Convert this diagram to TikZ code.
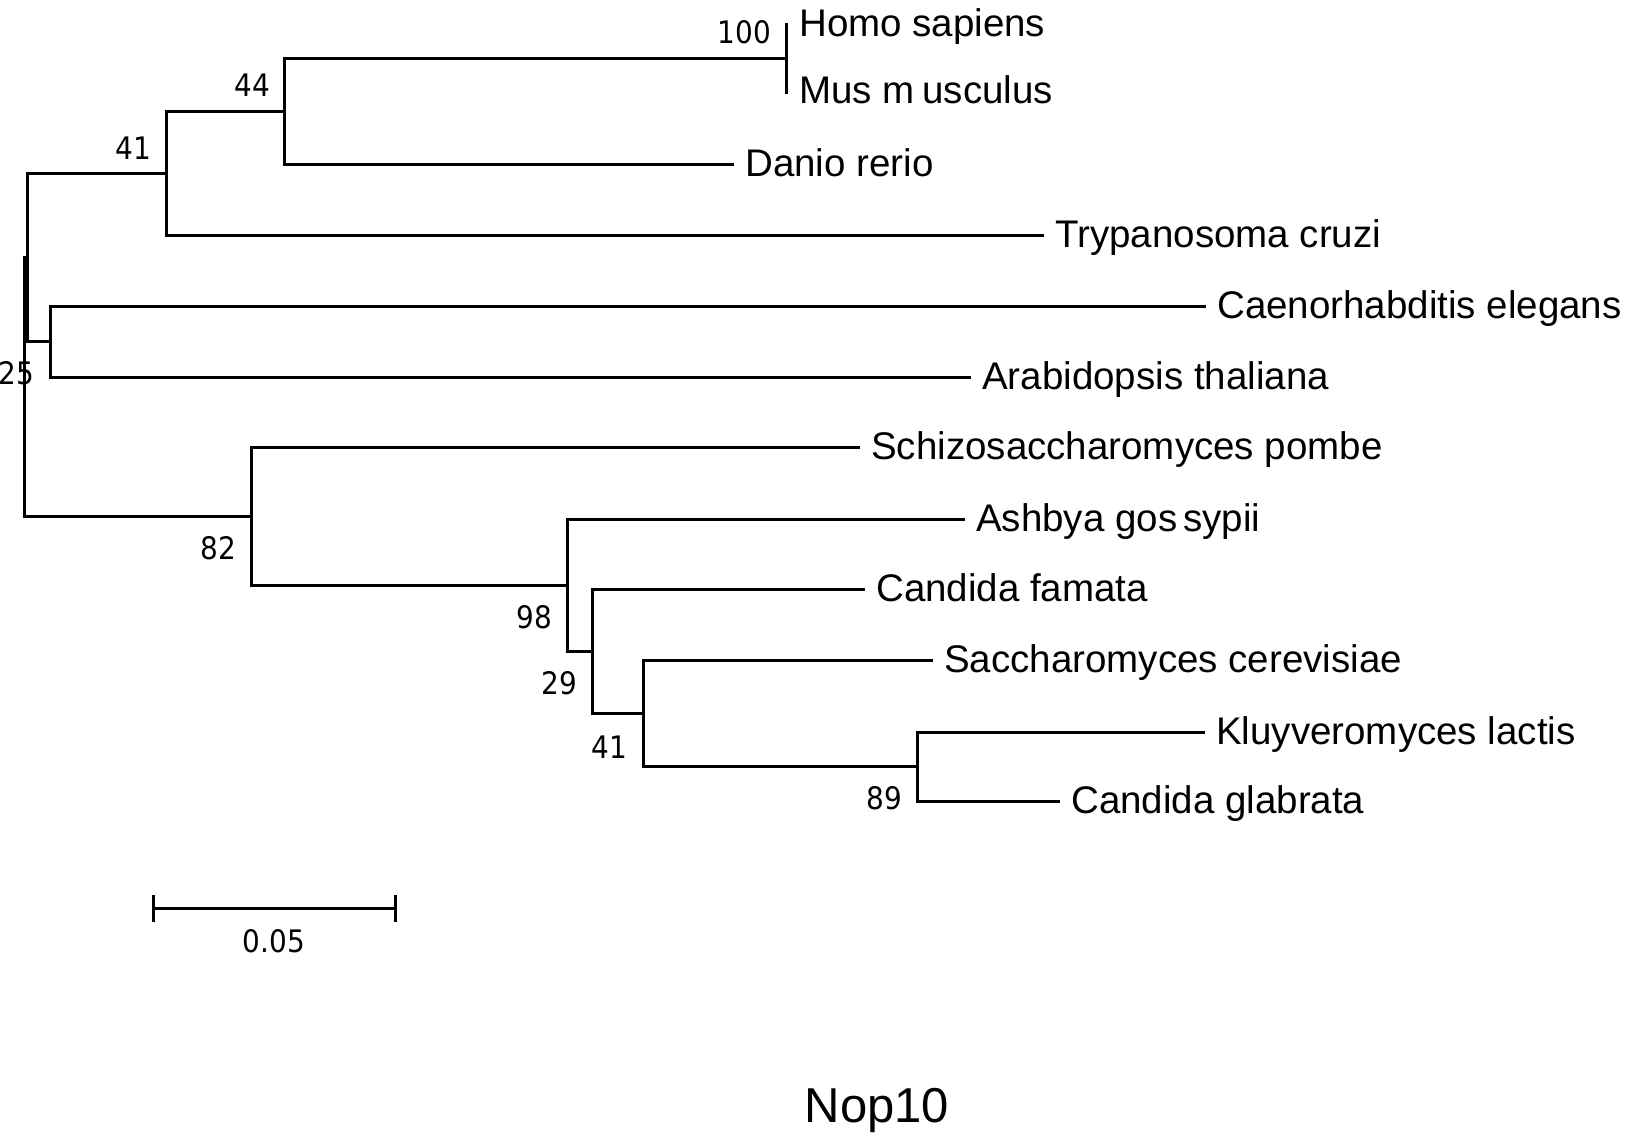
\documentclass[tikz,border=0pt]{standalone}
\usepackage{fontspec}
\setmainfont{Liberation Sans}
\newfontfamily\numfont{DejaVu Sans Condensed}
\begin{document}
\begin{tikzpicture}[x=1pt,y=-1pt,
  branch/.style={line width=3pt, line join=miter},
  leaf/.style={anchor=base west, inner sep=0pt, font=\fontsize{38.5}{44}\selectfont},
  boot/.style={anchor=base east, inner sep=0pt, font=\numfont\fontsize{31}{36}\selectfont},
  scalelbl/.style={anchor=base, inner sep=0pt, font=\numfont\fontsize{31}{36}\selectfont},
  title/.style={anchor=base, inner sep=0pt, font=\fontsize{49}{56}\selectfont}]
\useasboundingbox (0,0) rectangle (1627,1133);
% leaf tips
\coordinate (t-homo) at (786,23);
\coordinate (t-mus) at (786,94);
\coordinate (t-danio) at (734,164);
\coordinate (t-tryp) at (1044,235);
\coordinate (t-caeno) at (1206,306);
\coordinate (t-arab) at (971,377);
\coordinate (t-schizo) at (860,447);
\coordinate (t-ashbya) at (965,519);
\coordinate (t-cfam) at (865,589);
\coordinate (t-sacch) at (933,660);
\coordinate (t-kluy) at (1205,732);
\coordinate (t-cglab) at (1060,801);
% internal nodes
\coordinate (hm) at (786,58.5);
\coordinate (n44) at (284,111);
\coordinate (n41a) at (166,173);
\coordinate (nc) at (50,341);
\coordinate (nb) at (27,257);
\coordinate (n89) at (917,766.5);
\coordinate (n41b) at (643,713);
\coordinate (n29) at (592,651);
\coordinate (n98) at (567,585);
\coordinate (n82) at (251,516);
\coordinate (na) at (24,386.5);
% leaf labels
\node[leaf] (homo) at ([xshift=13pt,yshift=-13pt]t-homo) {Homo sapiens};
\node[leaf] (mus) at ([xshift=13pt,yshift=-9pt]t-mus) {Mus m\hspace{0.2em}usculus};
\node[leaf] (danio) at ([xshift=11pt,yshift=-12pt]t-danio) {Danio rerio};
\node[leaf] (tryp) at ([xshift=11pt,yshift=-12pt]t-tryp) {Trypanosoma cruzi};
\node[leaf] (caeno) at ([xshift=11pt,yshift=-12pt]t-caeno) {Caenorhabditis elegans};
\node[leaf] (arab) at ([xshift=11pt,yshift=-12pt]t-arab) {Arabidopsis thaliana};
\node[leaf] (schizo) at ([xshift=11pt,yshift=-12pt]t-schizo) {Schizosaccharomyces pombe};
\node[leaf] (ashbya) at ([xshift=11pt,yshift=-12pt]t-ashbya) {Ashbya gos\hspace{0.15em}sypii};
\node[leaf] (cfam) at ([xshift=11pt,yshift=-12pt]t-cfam) {Candida famata};
\node[leaf] (sacch) at ([xshift=11pt,yshift=-12pt]t-sacch) {Saccharomyces cerevisiae};
\node[leaf] (kluy) at ([xshift=11pt,yshift=-12pt]t-kluy) {Kluyveromyces lactis};
\node[leaf] (cglab) at ([xshift=11pt,yshift=-12pt]t-cglab) {Candida glabrata};
% tree branches
\draw[branch] (t-homo) -| (hm) |- (t-mus);
\draw[branch] (hm) -| (n44) |- (t-danio);
\draw[branch] (n44) -| (n41a) |- (t-tryp);
\draw[branch] (t-caeno) -| (nc) |- (t-arab);
\draw[branch] (n41a) -| (nb) |- (nc);
\draw[branch] (t-kluy) -| (n89) |- (t-cglab);
\draw[branch] (t-sacch) -| (n41b) |- (n89);
\draw[branch] (t-cfam) -| (n29) |- (n41b);
\draw[branch] (t-ashbya) -| (n98) |- (n29);
\draw[branch] (t-schizo) -| (n82) |- (n98);
\draw[branch] (nb) -| (na) |- (n82);
% bootstrap values
\node[boot] (b100) at (771,43) {100};
\node[boot] (b44) at (270,96) {44};
\node[boot] (b41a) at (151,159) {41};
\node[boot] (b25) at (34,384) {25};
\node[boot] (b82) at (236,559) {82};
\node[boot] (b98) at (552,628) {98};
\node[boot] (b29) at (577,694) {29};
\node[boot] (b41b) at (627,758) {41};
\node[boot] (b89) at (902,809) {89};
% scale bar
\coordinate (sb-l) at (153,908);
\coordinate (sb-r) at (395,908);
\draw[branch] (sb-l) -- (sb-r);
\draw[branch] ([yshift=-14pt]sb-l) -- ([yshift=13pt]sb-l);
\draw[branch] ([yshift=-14pt]sb-r) -- ([yshift=13pt]sb-r);
\node[scalelbl] (sblabel) at (274,952) {0.05};
% title
\node[title] (nop) at (877,1122) {Nop10};
\end{tikzpicture}
\end{document}
